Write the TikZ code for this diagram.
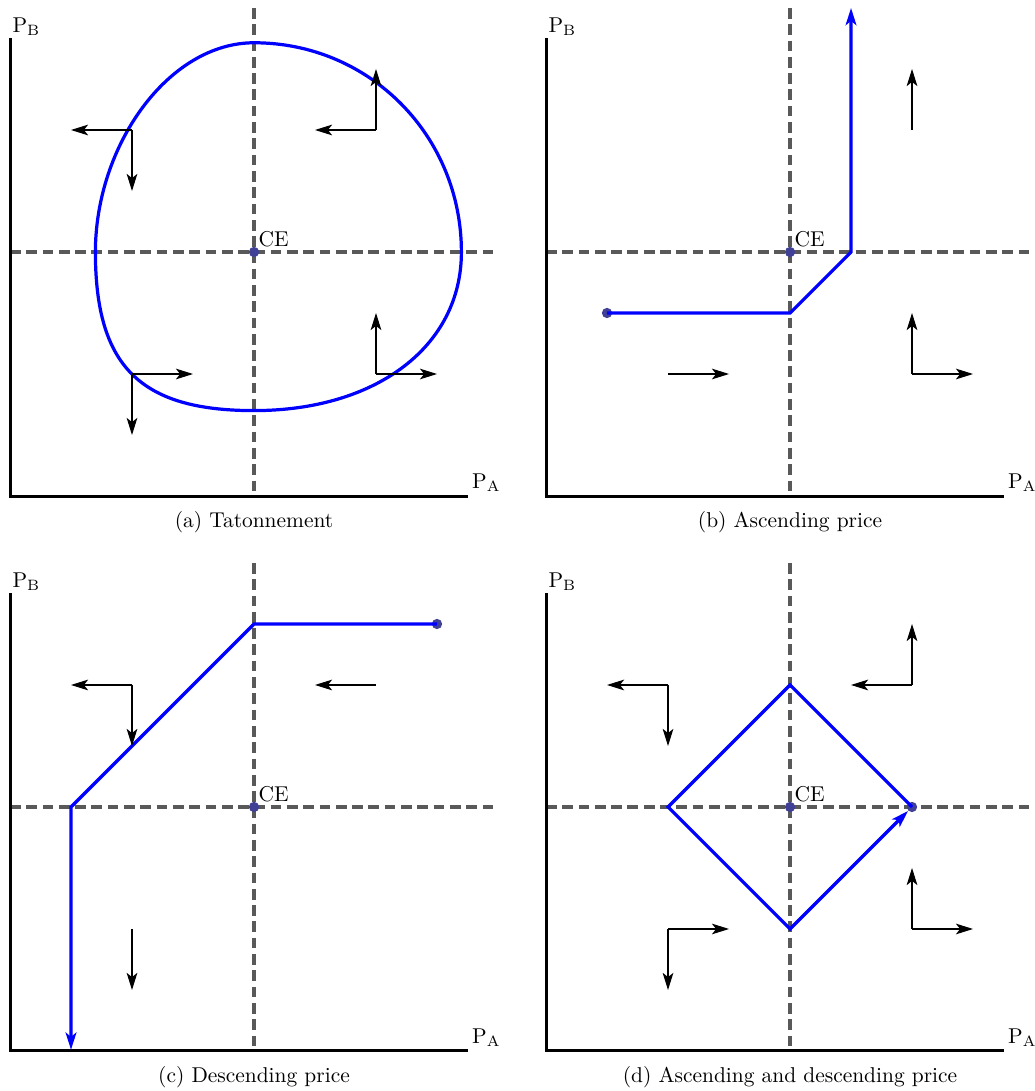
\documentclass[tikz,border=0pt]{standalone}
\usepackage{amsmath, amsfonts, amssymb}
\usepackage{tikz}
\usetikzlibrary{arrows.meta, calc, positioning}

\definecolor{dotblue}{RGB}{64,64,150}

\begin{document}
\begin{tikzpicture}[
  > = {Stealth[length=8pt,width=5pt,inset=2pt]},
  axis/.style = {line width=1.4pt},
  guide/.style = {black!65, line width=1.6pt, dash pattern=on 5pt off 2.6pt},
  route/.style = {blue, line width=1.5pt},
  flow/.style = {->, line width=0.5pt},
  dot/.style = {circle, fill=dotblue, inner sep=0pt, minimum size=4.8pt}
  ]
  \useasboundingbox (-4.164,-13.754) rectangle (12.803,4.131);

  % the four frames: axes, CE lines, captions
  \foreach \n/\sx/\sy/\cap in {a/0/0/{(a) Tatonnement},
                               b/8.787/0/{(b) Ascending price},
                               c/0/-9.098/{(c) Descending price},
                               d/8.787/-9.098/{(d) Ascending and descending price}} {
    \begin{scope}[shift={(\sx,\sy)}]
      \draw[guide] (0,4) -- (0,-4);
      \draw[guide] (-4,0) -- (4,0);
      \draw[axis] (-4,3.5) coordinate (ytop-\n) -- (-4,-4) -- (3.5,-4) coordinate (xend-\n);
      \node[anchor=south west, inner sep=1pt] (pb-\n) at (ytop-\n) {$\mathrm{P_B}$};
      \node[anchor=south west, inner sep=2pt] (pa-\n) at (xend-\n) {$\mathrm{P_A}$};
      \node (cap-\n) at (0,-4.43) {\cap};
      \coordinate (ce-\n) at (0,0);
    \end{scope}
  }

  % (a) tatonnement
  \begin{scope}
    \draw[route] (0,3.43)
      .. controls (1.9,3.43) and (3.4,1.9) .. (3.4,0)
      .. controls (3.4,-1.55) and (2.0,-2.6) .. (0,-2.6)
      .. controls (-1.87,-2.6) and (-2.6,-1.87) .. (-2.6,0)
      .. controls (-2.6,1.75) and (-1.4,3.43) .. cycle;
    \coordinate (a1) at (-2,2);
    \coordinate (a2) at (2,2);
    \coordinate (a3) at (-2,-2);
    \coordinate (a4) at (2,-2);
    \draw[flow] (a1) -- ++(-1,0);
    \draw[flow] (a1) -- ++(0,-1);
    \draw[flow] (a2) -- ++(-1,0);
    \draw[flow] (a2) -- ++(0,1);
    \draw[flow] (a3) -- ++(1,0);
    \draw[flow] (a3) -- ++(0,-1);
    \draw[flow] (a4) -- ++(1,0);
    \draw[flow] (a4) -- ++(0,1);
  \end{scope}

  % (b) ascending price
  \begin{scope}[shift={(8.787,0)}]
    \node[dot] (b-start) at (-3,-1) {};
    \coordinate (b-k1) at (0,-1);
    \coordinate (b-k2) at (1,0);
    \coordinate (b-end) at (1,4);
    \draw[route, ->] (b-start.center) -- (b-k1) -- (b-k2) -- (b-end);
    \coordinate (b1) at (2,2);
    \coordinate (b2) at (2,-2);
    \coordinate (b3) at (-2,-2);
    \draw[flow] (b1) -- ++(0,1);
    \draw[flow] (b2) -- ++(1,0);
    \draw[flow] (b2) -- ++(0,1);
    \draw[flow] (b3) -- ++(1,0);
  \end{scope}

  % (c) descending price
  \begin{scope}[shift={(0,-9.098)}]
    \node[dot] (c-start) at (3,3) {};
    \coordinate (c-k1) at (0,3);
    \coordinate (c-k2) at (-3,0);
    \coordinate (c-end) at (-3,-3.98);
    \draw[route, ->] (c-start.center) -- (c-k1) -- (c-k2) -- (c-end);
    \coordinate (c1) at (-2,2);
    \coordinate (c2) at (2,2);
    \coordinate (c3) at (-2,-2);
    \draw[flow] (c1) -- ++(-1,0);
    \draw[flow] (c1) -- ++(0,-1);
    \draw[flow] (c2) -- ++(-1,0);
    \draw[flow] (c3) -- ++(0,-1);
  \end{scope}

  % (d) ascending and descending price
  \begin{scope}[shift={(8.787,-9.098)}]
    \node[dot] (d-right) at (2,0) {};
    \coordinate (d-top) at (0,2);
    \coordinate (d-left) at (-2,0);
    \coordinate (d-bot) at (0,-2);
    \draw[route, ->] (d-right.center) -- (d-top) -- (d-left) -- (d-bot) -- (d-right);
    \coordinate (d1) at (-2,2);
    \coordinate (d2) at (2,2);
    \coordinate (d3) at (-2,-2);
    \coordinate (d4) at (2,-2);
    \draw[flow] (d1) -- ++(-1,0);
    \draw[flow] (d1) -- ++(0,-1);
    \draw[flow] (d2) -- ++(-1,0);
    \draw[flow] (d2) -- ++(0,1);
    \draw[flow] (d3) -- ++(1,0);
    \draw[flow] (d3) -- ++(0,-1);
    \draw[flow] (d4) -- ++(1,0);
    \draw[flow] (d4) -- ++(0,1);
  \end{scope}

  % equilibrium points on top
  \foreach \n in {a,b,c,d} {
    \node[dot] (cedot-\n) at (ce-\n) {};
    \node[anchor=south west, inner sep=2pt] (celabel-\n) at (ce-\n) {CE};
  }
\end{tikzpicture}
\end{document}
